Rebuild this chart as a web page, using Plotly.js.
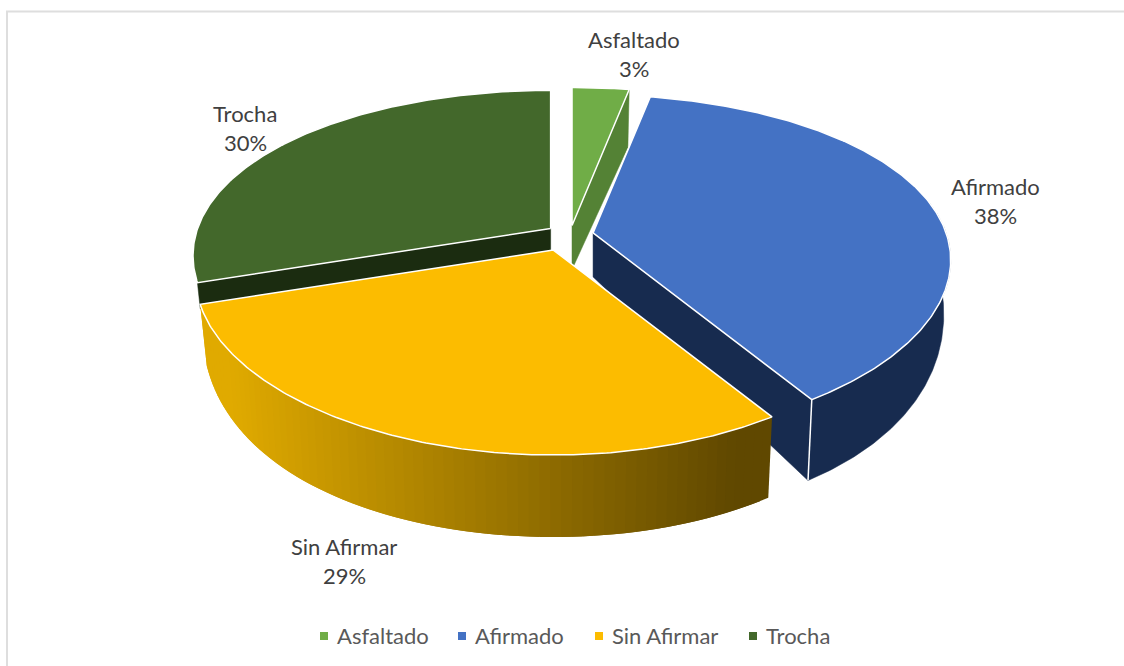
<!DOCTYPE html>
<html><head><meta charset="utf-8">
<script src="https://cdn.plot.ly/plotly-3.0.1.min.js"></script>
<style>html,body{margin:0;padding:0;background:#fff}#c{width:1124px;height:666px}</style>
</head><body><div id="c"></div>
<script>
var categories = ["Asfaltado", "Afirmado", "Sin Afirmar", "Trocha"];
var values = [3, 38, 29, 30];
var topColors = ["#70ad47", "#4472c4", "#fcbc00", "#43682b"];
var wallColors = ["#548235", "#172b4f", null, "#1b2c10"];
var explosionX = [1, 1, 2.05, 1];
var explosionY = [0.85, 1, 1.43, 1];
var labelX = [634, 995, 344, 245];
var labelY = [39, 186, 546, 113];
var legendX = [324, 462, 599, 753];

// projection of the tilted disc into plot units
var C = {x: 569.8, y: 235, ex: 23.7, ey: 11.2, R: 353, S: 165, K: 0.195, Kx: 0.16};
function proj(a) {
  var u = Math.sin(a), v = -Math.cos(a);
  return {dx: C.R * u / (1 - C.Kx * v), dy: C.S * v / (1 - C.K * v), u: u, v: v};
}
function height(v) {
  if (v < 0) return 44 - 14 * v;
  return 44 + 38 * Math.sin(v * Math.PI / 2);
}
function rad(p) { return p / 100 * 2 * Math.PI; }

var total = values.reduce(function (s, x) { return s + x; }, 0);
var slices = [], acc = 0;
values.forEach(function (val, i) {
  var p = val / total * 100;
  var a0 = rad(acc), a1 = rad(acc + p), mid = (a0 + a1) / 2;
  slices.push({a0: a0, a1: a1,
    ax: C.x + C.ex * explosionX[i] * Math.sin(mid),
    ay: C.y - C.ey * explosionY[i] * Math.cos(mid), pct: Math.round(p)});
  acc += p;
});

function topPt(s, a) { var q = proj(a); return [s.ax + q.dx, s.ay + q.dy]; }
function botPt(s, a, maxH) {
  var q = proj(a), h = height(q.v);
  if (maxH) h = Math.min(h, maxH);
  return [s.ax + q.dx - 7 * q.u * h / height(q.v), s.ay + q.dy + h];
}
function arc(s, a0, a1, fn) {
  var out = [], n = Math.max(2, Math.ceil(Math.abs(a1 - a0) / 0.01));
  for (var i = 0; i <= n; i++) out.push(fn(s, a0 + (a1 - a0) * i / n));
  return out;
}
var traces = [];
function poly(pts, fill, lineColor, lw) {
  traces.push({type: "scatter", mode: "lines", x: pts.map(function (p) { return p[0]; }),
    y: pts.map(function (p) { return p[1]; }), fill: "toself", fillcolor: fill,
    line: {color: lineColor || fill, width: lw === undefined ? 0.5 : lw},
    hoverinfo: "skip", showlegend: false});
}
function line(pts, color, lw) {
  traces.push({type: "scatter", mode: "lines", x: pts.map(function (p) { return p[0]; }),
    y: pts.map(function (p) { return p[1]; }),
    line: {color: color, width: lw}, hoverinfo: "skip", showlegend: false});
}
function apexTop(s) { return [s.ax, s.ay]; }
function apexBot(s, maxH) { return [s.ax, s.ay + (maxH ? Math.min(maxH, height(0)) : height(0))]; }
function face(i) {
  var s = slices[i];
  var pts = [apexTop(s)].concat(arc(s, s.a0, s.a1, topPt)); pts.push(apexTop(s));
  poly(pts, topColors[i], "#ffffff", 1.5);
}
function radialWall(i, a, color, maxH) {
  var s = slices[i];
  poly([apexTop(s), topPt(s, a), botPt(s, a, maxH), apexBot(s, maxH), apexTop(s)], color);
}
function rimWall(i, a0, a1, color) {
  var s = slices[i];
  var pts = arc(s, a0, a1, topPt).concat(arc(s, a1, a0, botPt)); pts.push(pts[0]);
  poly(pts, color);
}
function mix(a, b, t) {
  return "rgb(" + [0, 1, 2].map(function (k) { return Math.round(a[k] + (b[k] - a[k]) * t); }).join(",") + ")";
}

// Trocha: only the part of its cut face that the next slice leaves visible
radialWall(3, slices[3].a0, wallColors[3], 26);
face(3);
// Asfaltado
radialWall(0, slices[0].a1, wallColors[0]);
face(0);
// Afirmado
radialWall(1, slices[1].a1, wallColors[1]);
rimWall(1, rad(22), slices[1].a1, wallColors[1]);
face(1);
line([topPt(slices[1], slices[1].a1), botPt(slices[1], slices[1].a1)], "#ffffff", 1.5);
// Sin Afirmar with a shaded wall: each strip runs under the next one, so no seams show
var sA = slices[2], nStrips = 70;
for (var k = 0; k < nStrips; k++) {
  var b0 = sA.a0 + (sA.a1 - sA.a0) * k / nStrips;
  var b1 = sA.a0 + (sA.a1 - sA.a0) * Math.min(nStrips, k + 2) / nStrips;
  var xm = topPt(sA, b0)[0];
  var tx = Math.min(1, Math.max(0, (xm - 230) / (740 - 230)));
  var col = mix([224, 170, 0], [96, 72, 0], tx);
  var strip = arc(sA, b0, b1, topPt).concat(arc(sA, b1, b0, botPt));
  strip.push(strip[0]);
  traces.push({type: "scatter", mode: "lines", x: strip.map(function (p) { return p[0]; }),
    y: strip.map(function (p) { return p[1]; }), fill: "toself", fillcolor: col,
    line: {width: 0, color: col}, hoverinfo: "skip", showlegend: false});
}
face(2);

var font = "Lato, Carlito, sans-serif", textColor = "#404040", legColor = "#595959";
var annotations = [];
categories.forEach(function (name, i) {
  traces.push({type: "scatter", mode: "markers", x: [legendX[i]], y: [636],
    marker: {symbol: "square", size: 8, color: topColors[i]},
    hoverinfo: "skip", showlegend: false});
  annotations.push({x: legendX[i] + 13, y: 635, text: name, showarrow: false,
    xanchor: "left", yanchor: "middle", xshift: -2, font: {family: font, size: 22, color: legColor}});
  annotations.push({x: labelX[i], y: labelY[i], text: name, showarrow: false,
    xanchor: "center", yanchor: "middle", font: {family: font, size: 22, color: textColor}});
  annotations.push({x: labelX[i], y: labelY[i] + 29, text: slices[i].pct + "%", showarrow: false,
    xanchor: "center", yanchor: "middle", font: {family: font, size: 22, color: textColor}});
});
var hidden = {visible: false, fixedrange: true};
var layout = {
  width: 1124, height: 666, margin: {l: 0, r: 0, t: 0, b: 0},
  paper_bgcolor: "#ffffff", plot_bgcolor: "#ffffff", showlegend: false,
  xaxis: Object.assign({range: [0, 1124]}, hidden),
  yaxis: Object.assign({range: [666, 0]}, hidden),
  annotations: annotations,
  shapes: [{type: "line", x0: 7, x1: 7, y0: 11, y1: 666, line: {color: "#dedede", width: 2}, layer: "below"},
           {type: "line", x0: 6, x1: 1124, y0: 11.5, y1: 11.5, line: {color: "#dedede", width: 2}, layer: "below"}]
};
Plotly.newPlot("c", traces, layout, {displayModeBar: false, staticPlot: true});
</script></body></html>
